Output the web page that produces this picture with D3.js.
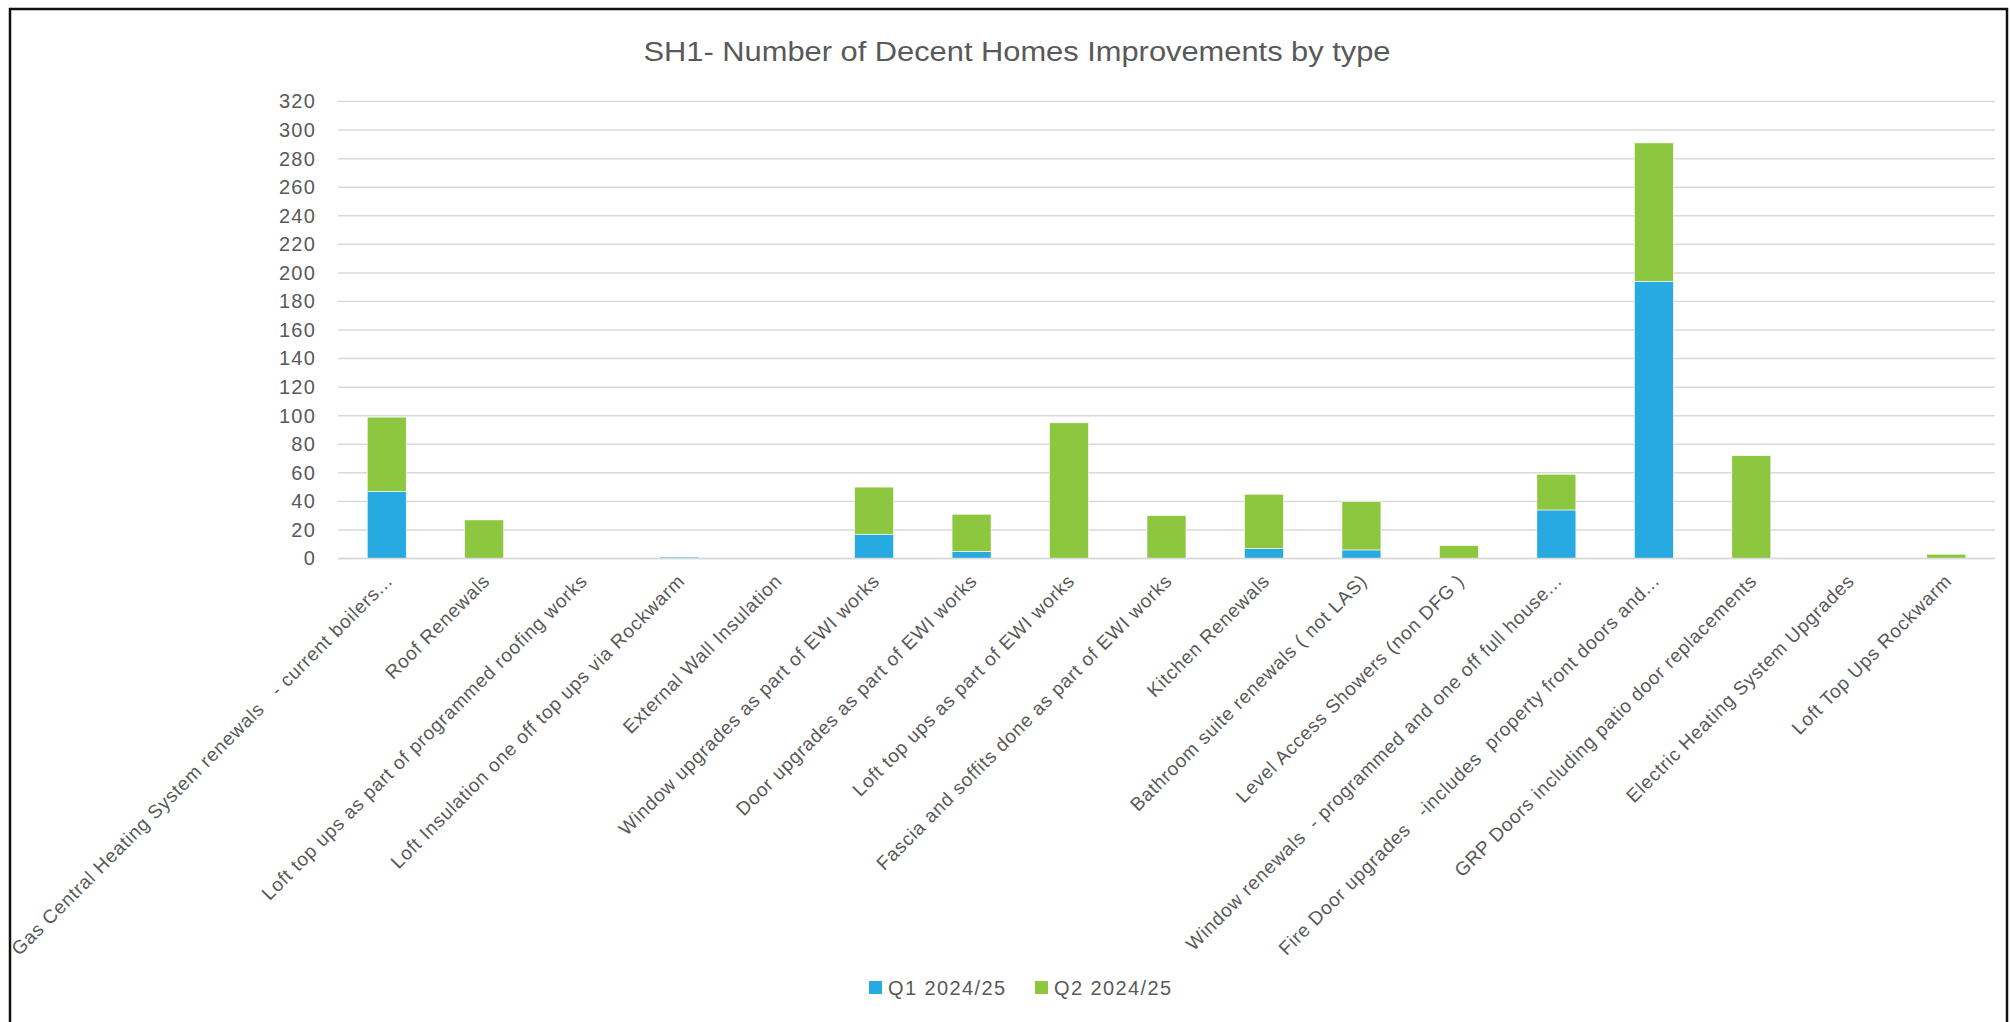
<!DOCTYPE html>
<html>
<head>
<meta charset="utf-8">
<script src="https://cdn.jsdelivr.net/npm/d3@7"></script>
<style>
  html, body { margin: 0; padding: 0; background: #fff; }
  svg { display: block; }
  text { font-family: "Liberation Sans", Arial, sans-serif; fill: #595959; }
</style>
</head>
<body>
<svg id="chart" width="2010" height="1022"></svg>
<script>
// Improvement types (category axis)
const categories = [
  "Gas Central Heating System renewals   - current boilers...",
  "Roof Renewals",
  "Loft top ups as part of programmed roofing works",
  "Loft Insulation one off top ups via Rockwarm",
  "External Wall Insulation",
  "Window upgrades as part of EWI works",
  "Door upgrades as part of EWI works",
  "Loft top ups as part of EWI works",
  "Fascia and soffits done as part of EWI works",
  "Kitchen Renewals",
  "Bathroom suite renewals ( not LAS)",
  "Level Access Showers (non DFG )",
  "Window renewals  - programmed and one off full house...",
  "Fire Door upgrades   -includes  property front doors and...",
  "GRP Doors including patio door replacements",
  "Electric Heating System Upgrades",
  "Loft Top Ups Rockwarm"
];

// Completed improvements per quarter
const q1Values = [47, 0, 0, 1, 0, 17, 5, 0, 0, 7, 6, 0, 34, 194, 0, 0, 0];
const q2Values = [52, 27, 0, 0, 0, 33, 26, 95, 30, 38, 34, 9, 25, 97, 72, 0, 3];

const seriesNames = ["Q1 2024/25", "Q2 2024/25"];
const seriesColors = ["#27A9E1", "#8DC63F"];

const yTicks = [0, 20, 40, 60, 80, 100, 120, 140, 160, 180, 200, 220, 240, 260, 280, 300, 320];

const titleText = "SH1- Number of Decent Homes Improvements by type";

// ---- layout ----
const svg = d3.select("#chart");
const plot = { left: 338, right: 1995, top: 101.5, bottom: 558.5 };

// outer chart frame
svg.append("rect")
  .attr("x", 10).attr("y", 9)
  .attr("width", 1997).attr("height", 1060)
  .attr("fill", "none")
  .attr("stroke", "#111")
  .attr("stroke-width", 2.5);

// title
svg.append("text")
  .attr("x", 1017)
  .attr("y", 61)
  .attr("text-anchor", "middle")
  .attr("font-family", "'Liberation Sans Narrow', 'Arial Narrow', 'Liberation Sans', sans-serif")
  .attr("font-size", 27)
  .attr("textLength", 747)
  .attr("lengthAdjust", "spacingAndGlyphs")
  .text(titleText);

// scales
const x = d3.scaleBand()
  .domain(categories)
  .range([plot.left, plot.right])
  .paddingInner(0.6)
  .paddingOuter(0.3);

const y = d3.scaleLinear()
  .domain([0, 320])
  .range([plot.bottom, plot.top]);

// gridlines
svg.append("g")
  .selectAll("line")
  .data(yTicks)
  .join("line")
  .attr("x1", plot.left)
  .attr("x2", plot.right)
  .attr("y1", d => y(d))
  .attr("y2", d => y(d))
  .attr("stroke", "#D9D9D9")
  .attr("stroke-width", 1.5);

// y axis labels
const yAxis = d3.axisLeft(y)
  .tickValues(yTicks)
  .tickSize(0)
  .tickPadding(22);

svg.append("g")
  .attr("transform", `translate(${plot.left},0)`)
  .call(yAxis)
  .call(g => g.select(".domain").remove())
  .call(g => g.selectAll("text")
    .attr("font-family", "'Liberation Sans', Arial, sans-serif")
    .attr("font-size", 20)
    .attr("letter-spacing", 1.2)
    .attr("fill", "#595959"));

// stacked bars
const rows = categories.map((c, i) => ({ category: c, q1: q1Values[i], q2: q2Values[i] }));
const stack = d3.stack().keys(["q1", "q2"]);
const layers = stack(rows);

svg.append("g")
  .selectAll("g")
  .data(layers)
  .join("g")
  .attr("fill", (d, i) => seriesColors[i])
  .selectAll("rect")
  .data(d => d.filter(s => s[1] - s[0] > 0))
  .join("rect")
  .attr("x", d => x(d.data.category))
  .attr("width", x.bandwidth())
  .attr("y", d => y(d[1]))
  .attr("height", d => y(d[0]) - y(d[1]))
  .attr("stroke", "#ffffff")
  .attr("stroke-width", 0.6);

// baseline
svg.append("line")
  .attr("x1", plot.left).attr("x2", plot.right)
  .attr("y1", y(0)).attr("y2", y(0))
  .attr("stroke", "#D9D9D9")
  .attr("stroke-width", 1.5);

// rotated category labels
const xAxis = d3.axisBottom(x).tickSize(0).tickPadding(0);
svg.append("g")
  .attr("transform", `translate(0,${y(0)})`)
  .call(xAxis)
  .call(g => g.select(".domain").remove())
  .call(g => g.selectAll(".tick text")
    .attr("font-family", "'Liberation Sans', Arial, sans-serif")
    .attr("font-size", 19)
    .attr("letter-spacing", 0.75)
    .attr("fill", "#595959")
    .style("white-space", "pre")
    .attr("text-anchor", "end")
    .attr("dy", "0.35em")
    .attr("y", 0)
    .attr("transform", "translate(2,19) rotate(-45)"));

// legend
const legend = svg.append("g").attr("transform", "translate(869,981)");
const legendOffsets = [0, 166];
seriesNames.forEach((name, i) => {
  const item = legend.append("g").attr("transform", `translate(${legendOffsets[i]},0)`);
  item.append("rect")
    .attr("width", 13).attr("height", 13)
    .attr("fill", seriesColors[i]);
  item.append("text")
    .attr("x", 19)
    .attr("y", 13.5)
    .attr("font-family", "'Liberation Sans', Arial, sans-serif")
    .attr("font-size", 20)
    .attr("letter-spacing", 1.4)
    .attr("fill", "#595959")
    .text(name);
});
</script>
</body>
</html>
